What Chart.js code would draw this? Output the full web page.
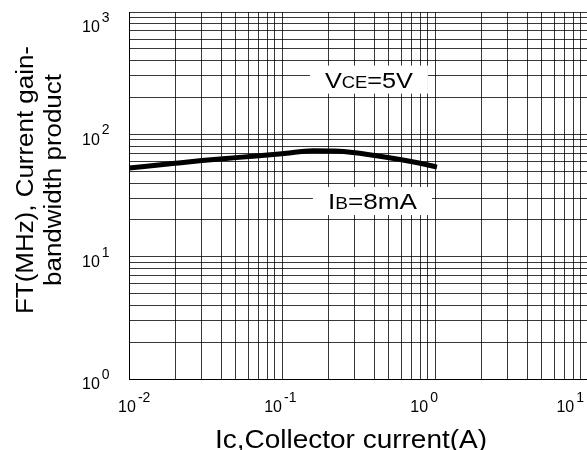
<!DOCTYPE html>
<html><head><meta charset="utf-8">
<script src="https://cdn.jsdelivr.net/npm/chart.js@4/dist/chart.umd.min.js"></script>
<style>
html,body{margin:0;padding:0;background:#fff;overflow:hidden;}
#wrap{width:587px;height:450px;overflow:hidden;position:relative;}
canvas{display:block;}
</style></head>
<body><div id="wrap"><canvas id="c" width="600" height="450"></canvas></div>
<script>
// Data
const currentA = [0.01, 0.02, 0.03, 0.05, 0.1, 0.16, 0.22, 0.29, 0.48, 0.8, 1.03];
const ftMHz    = [53,   58,   61,   64.5, 69.5, 73.5, 73,  71,   65,   58,  54];
const xDecadeExps = [-2, -1, 0, 1];
const yDecadeExps = [0, 1, 2, 3];
const xTitle = 'Ic,Collector current(A)';
const yTitleLines = ['FT(MHz), Current gain-', 'bandwidth product'];
const annVce = {x: 0.37, y: 280, main: 'V', sub: 'CE', rest: '=5V', width: 88};
const annIb  = {x: 0.39, y: 28.5, main: 'I', sub: 'B', rest: '=8mA', width: 89};

const FONT = '"Liberation Sans", Arial, sans-serif';

function decadeTicks(exps){
  const t = [];
  for (let i = 0; i < exps.length; i++) {
    const e = exps[i];
    if (i === exps.length - 1) { t.push({value: Math.pow(10, e), major: true}); break; }
    for (let m = 1; m <= 9; m++) t.push({value: +(m * Math.pow(10, e)).toPrecision(6), major: m === 1});
  }
  return t;
}

function scaledText(ctx, text, cx, y, s){
  ctx.save();
  ctx.translate(cx, y);
  ctx.scale(s, 1);
  ctx.textAlign = 'center';
  ctx.fillText(text, 0, 0);
  ctx.restore();
}

function drawAnn(ctx, xs, ys, a){
  const cx = xs.getPixelForValue(a.x), cy = ys.getPixelForValue(a.y);
  const big = 'normal 22px ' + FONT, small = 'normal 16px ' + FONT;
  ctx.font = big; const w1 = ctx.measureText(a.main).width, w3 = ctx.measureText(a.rest).width;
  ctx.font = small; const w2 = ctx.measureText(a.sub).width;
  const w = w1 + w2 + w3;
  const s = a.width / w;
  const bw = a.width + 30, bh = 28;
  ctx.fillStyle = '#fff';
  ctx.fillRect(cx - bw/2, cy - bh/2, bw, bh);
  ctx.save();
  ctx.translate(cx - a.width/2, cy + 8);
  ctx.scale(s, 1);
  ctx.fillStyle = '#000'; ctx.textBaseline = 'alphabetic'; ctx.textAlign = 'left';
  let x = 0;
  ctx.font = big; ctx.fillText(a.main, x, 0); x += w1;
  ctx.font = small; ctx.fillText(a.sub, x, 0); x += w2;
  ctx.font = big; ctx.fillText(a.rest, x, 0);
  ctx.restore();
}

function drawPow(ctx, x, y, exp, align){
  const big = 'normal 16px ' + FONT, small = 'normal 14px ' + FONT;
  ctx.font = big; const wb = ctx.measureText('10').width;
  let sx = align === 'left' ? x : x - wb/2;
  ctx.fillStyle = '#000'; ctx.textAlign = 'left'; ctx.textBaseline = 'middle';
  ctx.font = big; ctx.fillText('10', sx, y);
  ctx.font = small; ctx.fillText(String(exp), sx + wb + 2, y - 10);
}

const overlay = {
  id: 'overlay',
  afterDraw(chart){
    const ctx = chart.ctx, xs = chart.scales.x, ys = chart.scales.y, ca = chart.chartArea;
    ctx.save();
    drawAnn(ctx, xs, ys, annVce);
    drawAnn(ctx, xs, ys, annIb);
    yDecadeExps.forEach(e => {
      const py = ys.getPixelForValue(Math.pow(10, e));
      drawPow(ctx, 82, Math.max(py + 6, 28), e, 'left');
    });
    xDecadeExps.forEach(e => {
      const px = xs.getPixelForValue(Math.pow(10, e));
      const cx = px - 2 - 0.045 * (px - ca.left);
      drawPow(ctx, cx, 408, e, 'center');
    });
    ctx.fillStyle = '#000';
    ctx.textBaseline = 'alphabetic';
    ctx.font = 'normal 26px ' + FONT;
    scaledText(ctx, xTitle, 351, 448, 272 / ctx.measureText(xTitle).width);
    ctx.font = 'normal 23px ' + FONT;
    const sy = 268 / ctx.measureText(yTitleLines[0]).width;
    ctx.translate(0, 180); ctx.rotate(-Math.PI/2);
    scaledText(ctx, yTitleLines[0], 0, 33, sy);
    scaledText(ctx, yTitleLines[1], 0, 61, sy);
    ctx.restore();
  }
};

new Chart(document.getElementById('c'), {
  type: 'line',
  data: { datasets: [{
    data: currentA.map((v, i) => ({x: v, y: ftMHz[i]})),
    borderColor: '#000', borderWidth: 5, pointRadius: 0,
    cubicInterpolationMode: 'monotone', fill: false
  }]},
  options: {
    responsive: false, animation: false, devicePixelRatio: 1,
    layout: { padding: {left: 129, top: 12, right: 12, bottom: 71} },
    plugins: { legend: {display: false}, tooltip: {enabled: false} },
    scales: {
      x: {
        type: 'logarithmic', min: 0.01, max: 10,
        afterBuildTicks: s => { s.ticks = decadeTicks(xDecadeExps); },
        afterFit: s => { s.height = 0; },
        ticks: {display: false},
        grid: {color: 'rgba(0,0,0,0.78)', lineWidth: 1, drawTicks: false},
        border: {display: true, color: '#000', width: 1}
      },
      y: {
        type: 'logarithmic', min: 1, max: 1000,
        afterBuildTicks: s => { s.ticks = decadeTicks(yDecadeExps); },
        afterFit: s => { s.width = 0; },
        ticks: {display: false},
        grid: {color: 'rgba(0,0,0,0.78)', lineWidth: 1, drawTicks: false},
        border: {display: true, color: '#000', width: 1}
      }
    }
  },
  plugins: [overlay]
});
</script></body></html>
